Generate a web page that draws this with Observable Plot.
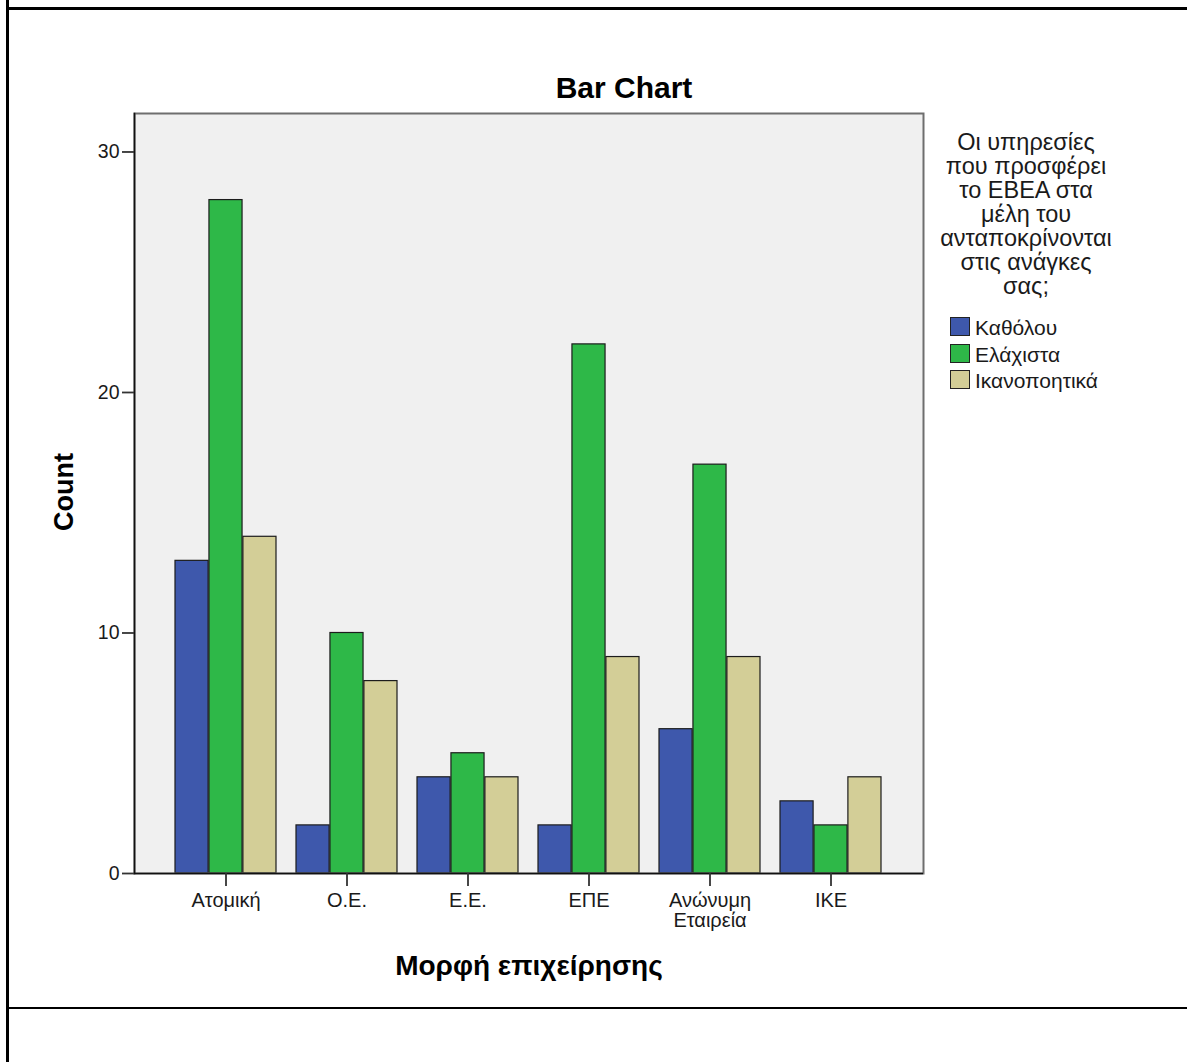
<!DOCTYPE html>
<html><head><meta charset="utf-8">
<script src="https://cdn.jsdelivr.net/npm/d3@7"></script>
<script src="https://cdn.jsdelivr.net/npm/@observablehq/plot@0.6"></script>
<style>
body{margin:0;background:#fff;font-family:"Liberation Sans",Arial,sans-serif;}
#wrap{position:relative;width:1187px;height:1062px;overflow:hidden;background:#fff;}
.abs{position:absolute;white-space:nowrap;}
</style></head><body><div id="wrap"></div>
<script>
const categories = ["Ατομική","Ο.Ε.","Ε.Ε.","ΕΠΕ","Ανώνυμη Εταιρεία","ΙΚΕ"];
const series = ["Καθόλου","Ελάχιστα","Ικανοποητικά"];
const katholou = [13,2,4,2,6,3];
const elaxista = [28,10,5,22,17,2];
const ikanopoitika = [14,8,4,9,9,4];
const seriesColors = ["#3e58ac","#2eb848","#d3ce97"];
const yTicks = [0,10,20,30];
const yMax = 31.6;
const chartTitle = "Bar Chart";
const xLabel = "Μορφή επιχείρησης";
const yLabel = "Count";
const legendTitle = ["Οι υπηρεσίες","που προσφέρει","το ΕΒΕΑ στα","μέλη του","ανταποκρίνονται","στις ανάγκες","σας;"];

const values = [katholou, elaxista, ikanopoitika];
const rows = categories.flatMap((c, i) => series.map((s, j) => ({category: c, series: s, value: values[j][i]})));

const W = 1187, H = 1062;
const mL = 134, mT = 113, mR = W - 923, mB = H - 873;
const pIn = 0.164, pOut = 0.32;
const bw = d3.scaleBand().domain(categories).range([mL, W - mR]).paddingInner(pIn).paddingOuter(pOut).bandwidth();
const third = bw / 3;

const plot = Plot.plot({
  width: W, height: H,
  marginLeft: mL, marginTop: mT, marginRight: mR, marginBottom: mB,
  style: {fontFamily: "'Liberation Sans', Arial, sans-serif", background: "transparent", color: "#1a1a1a", overflow: "visible"},
  x: {domain: categories, paddingInner: pIn, paddingOuter: pOut, align: 0.5},
  y: {domain: [0, yMax]},
  marks: [
    Plot.frame({fill: "#f0f0f0"}),
    ...series.map((s, j) => Plot.barY(rows.filter(d => d.series === s), {
      x: "category", y: "value", fill: seriesColors[j], stroke: "#1c1c1c", strokeWidth: 1.2,
      insetLeft: j * third, insetRight: (2 - j) * third
    })),
    Plot.frame({stroke: "#6e6e6e", strokeWidth: 2}),
    Plot.frame({anchor: "left", stroke: "#111", strokeWidth: 1.6}),
    Plot.ruleY([0], {stroke: "#111", strokeWidth: 1.6}),
    Plot.axisY({ticks: yTicks, tickSize: 12, tickPadding: 3, fontSize: 19.5, label: null, tickFormat: d => String(d), stroke: "#333", strokeWidth: 1.8}),
    Plot.axisX({tickSize: 13, tickPadding: 6, fontSize: 20, label: null, tickFormat: d => d.replace(" ", "\n"), stroke: "#333", strokeWidth: 1.8, lineHeight: 1.0})
  ]
});
plot.style.position = "absolute";
plot.style.left = "0px";
plot.style.top = "0px";
const wrap = document.getElementById("wrap");
wrap.appendChild(plot);

function addDiv(css, html) {
  const d = document.createElement("div");
  d.className = "abs";
  d.style.cssText += css;
  d.innerHTML = html;
  wrap.appendChild(d);
  return d;
}
// page frame lines
addDiv("left:6px;top:0;width:2.5px;height:1062px;background:#000;", "");
addDiv("left:6px;top:7px;width:1181px;height:2.5px;background:#000;", "");
addDiv("left:6px;top:1007px;width:1181px;height:1.8px;background:#000;", "");
addDiv("left:6px;top:1006.5px;width:15px;height:2.5px;background:#000;", "");

// title
addDiv("left:424px;top:73px;width:400px;text-align:center;font-size:30px;line-height:30px;font-weight:bold;color:#000;", chartTitle);
// x label
addDiv("left:229px;top:952px;width:600px;text-align:center;font-size:28px;line-height:28px;font-weight:bold;color:#000;", xLabel);
// y label
addDiv("left:63.5px;top:492px;font-size:27px;line-height:27px;font-weight:bold;color:#000;transform:translate(-50%,-50%) rotate(-90deg);", yLabel);
// legend title
addDiv("left:926px;top:129.5px;width:200px;text-align:center;font-size:23.5px;line-height:24px;color:#1a1a1a;", legendTitle.join("<br>"));
// legend items
series.forEach((s, j) => {
  addDiv(`left:950px;top:${317 + 26.5 * j}px;width:18px;height:17px;background:${seriesColors[j]};border:1.5px solid #222;`, "");
  addDiv(`left:975px;top:${317 + 26.5 * j}px;font-size:21px;line-height:21px;color:#1a1a1a;`, s);
});
</script></body></html>
